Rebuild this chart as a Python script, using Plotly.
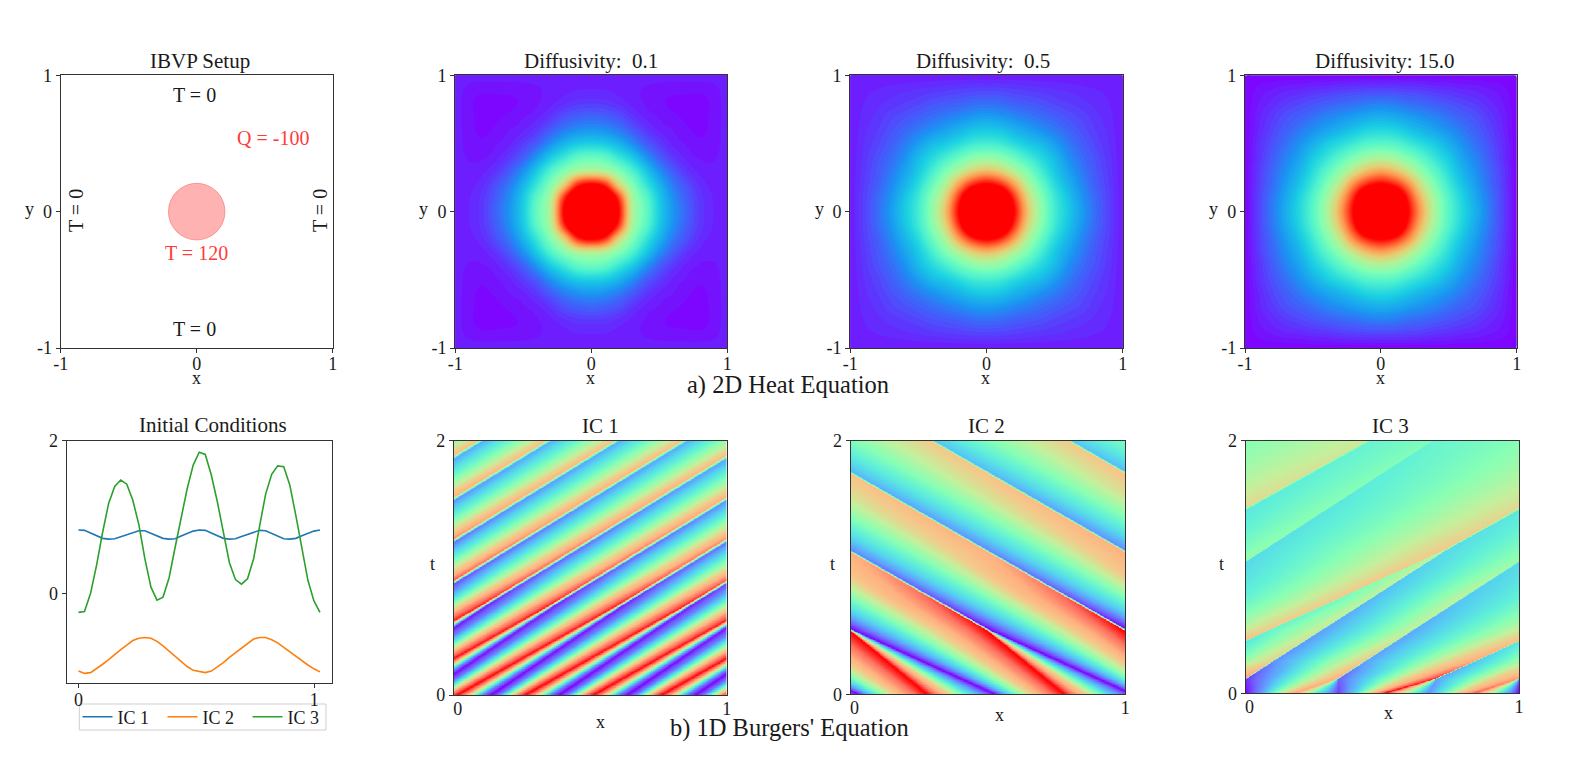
import numpy as np
import plotly.graph_objects as go

W, H = 1578, 768
FONT = "Liberation Serif"
INK = "#1a1a1a"

# ---------- colour stops ----------
RAMP_POS = [0, .1, .2, .3, .4, .5, .6, .7, .8, .9, 1]
HEAT_HEX = ["#8000ff", "#4d4ffc", "#1a96f2", "#1acee3", "#4df2ce", "#80ffb4",
            "#b3f296", "#e6ce74", "#ff964f", "#ff4f28", "#ff0000"]
BURG_HEX = ["#8000ff", "#7060ff", "#60a0ff", "#55d0f0", "#60f0d8", "#88ffb4",
            "#c4f09c", "#f4c98a", "#ffb080", "#ff7060", "#ff0000"]

# ---------- panel texts ----------
HEAT_TITLES = ["Diffusivity:  0.1", "Diffusivity:  0.5", "Diffusivity: 15.0"]
BURGERS_TITLES = ["IC 1", "IC 2", "IC 3"]
IC_NAMES = ["IC 1", "IC 2", "IC 3"]
IC_COLORS = ["#1f77b4", "#ff7f0e", "#2ca02c"]

# ---------- initial conditions, read at steps of 0.0256 in x ----------
IC_STEP = 0.0256
IC1 = [.83, .825, .79, .75, .72, .71, .715, .74, .77, .80, .82, .82, .79, .75, .72, .71, .715, .75, .785, .815, .83,
       .825, .79, .75, .72, .71, .715, .745, .775, .805, .825, .82, .785, .745, .715, .71, .72, .755, .785, .815, .83]
IC2 = [-1.02, -1.05, -1.04, -.99, -.93, -.87, -.80, -.74, -.68, -.62, -.59, -.58, -.59, -.63, -.69, -.76, -.83, -.90,
       -.96, -1.01, -1.03, -1.04, -1.02, -.97, -.91, -.84, -.78, -.71, -.65, -.60, -.58, -.58, -.61, -.65, -.71, -.77,
       -.83, -.89, -.94, -.99, -1.03]
IC3 = [-.25, -.24, .0, .37, .80, 1.18, 1.40, 1.485, 1.43, 1.22, .90, .45, .08, -.09, -.05, .20, .60, 1.0, 1.37, 1.68,
       1.85, 1.82, 1.55, 1.2, .82, .4, .18, .12, .19, .45, .88, 1.3, 1.56, 1.67, 1.66, 1.42, 1.02, .60, .17, -.1, -.25]

# ---------- heat fields: one quadrant, rows y=0..1, columns x=0..1, step 0.1 ----------
# values above 1 sit inside the saturated red disc
HEAT_AXIS = [0, .1, .2, .3, .4, .5, .6, .7, .8, .9, 1]
HEAT_01 = [
    [1.3, 1.25, 1, .6, .45, .3, .2, .13, .07, .045, .04],
    [1.25, 1.2, .93, .58, .43, .29, .19, .12, .068, .044, .04],
    [1, .93, .68, .5, .36, .25, .16, .10, .055, .04, .04],
    [.6, .58, .5, .40, .29, .19, .115, .065, .04, .035, .04],
    [.45, .43, .36, .29, .2, .12, .07, .04, .028, .028, .04],
    [.3, .29, .25, .19, .12, .075, .042, .028, .018, .023, .04],
    [.2, .19, .16, .115, .07, .042, .03, .018, .012, .021, .04],
    [.13, .12, .10, .065, .04, .028, .018, .012, .01, .02, .04],
    [.07, .068, .055, .04, .028, .018, .012, .01, .008, .02, .04],
    [.045, .044, .04, .035, .028, .023, .021, .02, .02, .025, .04],
    [.04, .04, .04, .04, .04, .04, .04, .04, .04, .04, .04],
]
HEAT_05 = [
    [1.3, 1.25, 1, .72, .53, .38, .29, .21, .14, .08, .03],
    [1.25, 1.2, .94, .68, .51, .37, .28, .20, .135, .08, .03],
    [1, .94, .78, .59, .45, .33, .25, .18, .12, .075, .03],
    [.72, .68, .59, .49, .38, .29, .22, .16, .11, .07, .03],
    [.53, .51, .45, .38, .32, .26, .19, .14, .10, .065, .03],
    [.38, .37, .33, .29, .26, .21, .16, .12, .085, .06, .03],
    [.29, .28, .25, .22, .19, .16, .13, .10, .075, .055, .03],
    [.21, .20, .18, .16, .14, .12, .10, .085, .065, .05, .03],
    [.14, .135, .12, .11, .10, .085, .075, .065, .055, .045, .03],
    [.08, .08, .075, .07, .065, .06, .055, .05, .045, .04, .03],
    [.03, .03, .03, .03, .03, .03, .03, .03, .03, .03, .03],
]
HEAT_15 = [
    [1.3, 1.25, 1, .76, .57, .42, .32, .24, .16, .08, 0],
    [1.25, 1.2, .95, .72, .55, .41, .31, .23, .155, .08, 0],
    [1, .95, .81, .63, .49, .37, .28, .21, .14, .075, 0],
    [.76, .72, .63, .52, .42, .33, .25, .19, .13, .07, 0],
    [.57, .55, .49, .42, .35, .29, .22, .17, .115, .06, 0],
    [.42, .41, .37, .33, .29, .24, .19, .145, .10, .055, 0],
    [.32, .31, .28, .25, .22, .19, .155, .12, .085, .045, 0],
    [.24, .23, .21, .19, .17, .145, .12, .10, .07, .04, 0],
    [.16, .155, .14, .13, .115, .10, .085, .07, .05, .03, 0],
    [.08, .08, .075, .07, .06, .055, .045, .04, .03, .02, 0],
    [0, 0, 0, 0, 0, 0, 0, 0, 0, 0, 0],
]

# ---------- Burgers fields: profile knots read across one repeat, at several times ----------
B1_PERIOD, B1_ORIGIN, B1_DRIFT = .25, .074, .763
B1_T = [0, .7, 1, 1.5, 2]
B1_POS = [
    [.0625, .09375, .125, .15625, .1875, .21875, .25, .28125],
    [.01, .06, .125, .19, .238, .243, .25, .255],
    [.01, .06, .125, .19, .238, .243, .25, .255],
    [.01, .06, .125, .19, .238, .243, .25, .255],
    [.01, .06, .125, .19, .238, .243, .25, .255],
]
B1_VAL = [
    [0, .146, .5, .854, 1, .854, .5, .146],
    [.03, .17, .5, .83, .97, .8, .5, .2],
    [.10, .28, .5, .72, .90, .7, .5, .3],
    [.17, .32, .49, .66, .80, .65, .5, .35],
    [.23, .35, .48, .61, .73, .6, .48, .36],
]
B2_PERIOD, B2_ORIGIN, B2_DRIFT = .5, .91, -.805
B2_T = [0, .5, .75, 1.1, 1.75, 2]
B2_POS = [
    [.115, .16, .20, .28, .367, .42, .49, .54],
    [.006, .116, .208, .36, .49, .494, .498, .502],
    [.006, .10, .21, .35, .49, .494, .498, .502],
    [.006, .10, .21, .35, .49, .494, .498, .502],
    [.006, .10, .21, .35, .49, .494, .498, .502],
    [.006, .10, .21, .35, .49, .494, .498, .502],
]
B2_VAL = [
    [0, .28, .5, .8, 1, .8, .5, .28],
    [0, .28, .5, .8, 1, .8, .5, .28],
    [.08, .3, .5, .76, .92, .7, .5, .3],
    [.16, .33, .49, .68, .80, .65, .5, .33],
    [.25, .37, .49, .62, .72, .6, .49, .37],
    [.28, .39, .49, .60, .70, .6, .49, .39],
]
B3_PERIOD, B3_ORIGIN, B3_DRIFT = 1, 0, 0
B3_T = [0, .11, .25, .5, .75, 1.135, 1.5, 2]
B3_POS = [
    [0, .06, .11, .18, .26, .34, .40, .45, .51, .60, .67, .72, .78, .84, .93],
    [.002, .085, .20, .331, .335, .339, .44, .57, .689, .693, .697, .79, .91, .994, .998],
    [.102, .19, .30, .431, .435, .439, .57, .70, .834, .838, .842, .93, 1.02, 1.094, 1.098],
    [.282, .39, .5, .609, .613, .617, .77, .93, 1.084, 1.088, 1.092, 1.15, 1.21, 1.274, 1.278],
    [.462, .57, .68, .788, .792, .796, .98, 1.16, 1.339, 1.343, 1.347, 1.385, 1.42, 1.454, 1.458],
    [.737, .85, .96, 1.064, 1.068, 1.072, 1.29, 1.51, 1.726, 1.73, 1.731, 1.732, 1.733, 1.734, 1.7345],
    [1.042, 1.14, 1.23, 1.324, 1.328, 1.332, 1.57, 1.80, 2.03, 2.033, 2.034, 2.035, 2.036, 2.037, 2.038],
    [1.458, 1.53, 1.61, 1.681, 1.685, 1.689, 1.94, 2.2, 2.446, 2.449, 2.45, 2.451, 2.452, 2.453, 2.454],
]
B3_VAL = [
    [0, .2, .5, .825, .4, .06, .3, .65, 1, .5, .18, .4, .7, .92, .4],
    [.05, .2, .5, .80, .45, .10, .3, .65, .97, .55, .2, .4, .7, .85, .45],
    [.17, .3, .5, .70, .45, .2, .38, .6, .82, .5, .28, .42, .58, .68, .45],
    [.2, .33, .47, .60, .4, .22, .38, .54, .70, .45, .42, .49, .55, .62, .5],
    [.25, .36, .48, .60, .42, .28, .4, .54, .70, .5, .45, .5, .54, .6, .5],
    [.33, .39, .46, .52, .42, .34, .45, .57, .70, .5, .6, .6, .6, .6, .5],
    [.38, .42, .46, .50, .44, .37, .46, .56, .66, .5, .5, .5, .5, .5, .5],
    [.42, .44, .46, .48, .45, .42, .48, .55, .62, .5, .5, .5, .5, .5, .5],
]

# ---------- panel boxes in page pixels: left, right, top, bottom ----------
BOX_SETUP = (60.7, 332.7, 75.3, 348)
BOX_HEAT = [(455.3, 727.3, 75.3, 348), (850.3, 1122.7, 75.3, 348), (1245, 1516.7, 75.3, 348)]
BOX_IC = (66.7, 332, 440.7, 683.3)
BOX_BURG = [(454, 726.7, 440.7, 695), (850.7, 1125.3, 440.7, 694.3), (1245.7, 1519, 440.7, 693.3)]
BOX_LEGEND = (79.3, 326, 704, 730)

heat_scale = [[p, c] for p, c in zip(RAMP_POS, HEAT_HEX)]
burg_scale = [[p, c] for p, c in zip(RAMP_POS, BURG_HEX)]
fig = go.Figure()
layout = {}
notes = []


def px(x, y, text, size=20, color=INK, angle=0):
    notes.append(dict(x=x / W, y=1 - y / H, xref="paper", yref="paper", text=text, showarrow=False,
                      xanchor="center", yanchor="middle", textangle=angle,
                      font=dict(family=FONT, size=size, color=color)))


def axes(n, box, xr, yr, xt, xl, yt, yl, xstand=-5, xticks="outside"):
    l, r, t, b = box
    sfx = "" if n == 1 else str(n)
    common = dict(showline=True, mirror=True, linecolor="#333", linewidth=1.2, ticklen=4, tickwidth=1,
                  tickcolor="#333", showgrid=False, zeroline=False, tickmode="array",
                  tickfont=dict(family=FONT, size=18, color=INK))
    layout["xaxis" + sfx] = dict(common, domain=[l / W, r / W], range=xr, tickvals=xt, ticktext=xl,
                                 anchor="y" + sfx, ticks=xticks, ticklabelstandoff=xstand)
    layout["yaxis" + sfx] = dict(common, domain=[1 - b / H, 1 - t / H], range=yr, tickvals=yt, ticktext=yl,
                                 anchor="x" + sfx, ticks="outside")
    return "x" + sfx, "y" + sfx


def mirrored(q):
    q = np.array(q, float)
    right = np.hstack([q[:, :0:-1], q])
    return np.vstack([right[:0:-1], right])


def refine(a, f=4):
    """Smooth cubic resampling of a table along its first axis, for drawing only."""
    n = a.shape[0]
    idx = np.linspace(0, n - 1, (n - 1) * f + 1)
    i = np.clip(idx.astype(int), 0, n - 2)
    s = (idx - i)[:, None]
    p0, p1, p2, p3 = a[np.clip(i - 1, 0, n - 1)], a[i], a[i + 1], a[np.clip(i + 2, 0, n - 1)]
    return .5 * (2 * p1 + (p2 - p0) * s + (2 * p0 - 5 * p1 + 4 * p2 - p3) * s ** 2 + (3 * p1 - p0 - 3 * p2 + p3) * s ** 3)


def sweep(times, pos, val, period, origin, drift, nx=420, nt=400):
    times, pos, val = np.array(times), np.array(pos, float), np.array(val, float)
    xs = np.linspace(0, 1, nx)
    ts = np.linspace(0, 2, nt)
    z = np.zeros((nt, nx))
    for j, t in enumerate(ts):
        i = min(np.searchsorted(times, t, side="right") - 1, len(times) - 2)
        w = (t - times[i]) / (times[i + 1] - times[i])
        xk = (origin + drift * t + pos[i] * (1 - w) + pos[i + 1] * w) % period
        zk = val[i] * (1 - w) + val[i + 1] * w
        order = np.argsort(xk, kind="stable")
        xp = np.maximum.accumulate(xk[order] + 1e-7 * np.arange(len(xk)))
        fp = zk[order]
        z[j] = np.interp(xs % period, np.concatenate([xp - period, xp, xp + period]), np.concatenate([fp, fp, fp]))
    return xs, ts, z


HX = ["-1", "0", "1"]
# --- IBVP setup panel
xa, ya = axes(1, BOX_SETUP, [-1, 1], [-1, 1], [-1, 0, 1], HX, [-1, 0, 1], HX)
fig.add_trace(go.Scatter(x=[None], y=[None], xaxis=xa, yaxis=ya, showlegend=False))
layout["shapes"] = [
    dict(type="circle", xref=xa, yref=ya, x0=-.208, x1=.208, y0=-.208, y1=.208,
         fillcolor="rgba(255,0,0,.3)", line=dict(color="rgba(255,0,0,.3)", width=1)),
    dict(type="rect", xref="paper", yref="paper", x0=BOX_LEGEND[0] / W, x1=BOX_LEGEND[1] / W,
         y0=1 - BOX_LEGEND[3] / H, y1=1 - BOX_LEGEND[2] / H, fillcolor="white",
         line=dict(color="#cfcfcf", width=1), layer="below"),
]
px(200, 60.7, "IBVP Setup", 21)
px(194, 95, "T = 0")
px(194, 329.3, "T = 0")
px(76, 211, "T = 0", angle=-90)
px(320, 211, "T = 0", angle=-90)
RED = "#ff3b3b"
px(273.3, 138.3, "Q = -100", color=RED)
px(196.7, 253.3, "T = 120", color=RED)
px(196.7, 378, "x", 18)
px(29.3, 209, "y", 18)

# --- heat panels
axis_full = np.array([-v for v in HEAT_AXIS[:0:-1]] + HEAT_AXIS)
axis_fine = refine(axis_full[:, None])[:, 0]
for k, (q, box, title) in enumerate(zip([HEAT_01, HEAT_05, HEAT_15], BOX_HEAT, HEAT_TITLES)):
    xa, ya = axes(2 + k, box, [-1, 1], [-1, 1], [-1, 0, 1], HX, [-1, 0, 1], HX)
    fine = refine(refine(mirrored(q)).T).T
    fig.add_trace(go.Contour(x=axis_fine, y=axis_fine, z=fine, xaxis=xa, yaxis=ya, colorscale=heat_scale,
                             zmin=0, zmax=1, showscale=False, line=dict(width=0, smoothing=1),
                             contours=dict(coloring="fill", start=0, end=1, size=.015, showlines=False),
                             hoverinfo="skip"))
    px([591, 983, 1385][k], 61, title, 21)
    px([590, 985.7, 1380][k], 378, "x", 18)
    px([423.3, 819, 1213][k], 209, "y", 18)

# --- initial conditions
xa, ya = axes(5, BOX_IC, [-.05, 1.075], [-1.18, 2], [0, 1], ["0", "1"], [0, 2], ["0", "2"], xstand=-4)
ic_x = [i * IC_STEP for i in range(len(IC1))]
for name, color, vals in zip(IC_NAMES, IC_COLORS, [IC1, IC2, IC3]):
    fig.add_trace(go.Scatter(x=ic_x, y=vals, name=name, mode="lines", line=dict(color=color, width=1.6),
                             xaxis=xa, yaxis=ya))
px(213.3, 425, "Initial Conditions", 21)

# --- Burgers panels
sets = [(B1_T, B1_POS, B1_VAL, B1_PERIOD, B1_ORIGIN, B1_DRIFT),
        (B2_T, B2_POS, B2_VAL, B2_PERIOD, B2_ORIGIN, B2_DRIFT),
        (B3_T, B3_POS, B3_VAL, B3_PERIOD, B3_ORIGIN, B3_DRIFT)]
for k, (s, box, title) in enumerate(zip(sets, BOX_BURG, BURGERS_TITLES)):
    xa, ya = axes(6 + k, box, [0, 1], [0, 2], [.014, 1], ["0", "1"], [0, 2], ["0", "2"], xstand=-3, xticks="")
    xs, ts, z = sweep(*s)
    fig.add_trace(go.Heatmap(x=xs, y=ts, z=z, xaxis=xa, yaxis=ya, colorscale=burg_scale, zmin=0, zmax=1,
                             showscale=False, hoverinfo="skip"))
    px([600, 986.7, 1390.7][k], 425.7, title, 21)
    px([600, 999, 1388][k], [721.7, 715, 712.7][k], "x", 18)
    px([432.7, 832.7, 1221.7][k], 564, "t", 18)

px(788, 385, "a) 2D Heat Equation", 24.5)
px(789, 728, "b) 1D Burgers' Equation", 24.5)

fig.update_layout(width=W, height=H, margin=dict(l=0, r=0, t=0, b=0, autoexpand=False), paper_bgcolor="white",
                  plot_bgcolor="white", annotations=notes,
                  legend=dict(orientation="h", x=77.5 / W, y=1 - 698.5 / H, xanchor="left", yanchor="top",
                              borderwidth=0, font=dict(family=FONT, size=18, color=INK),
                              entrywidth=40, itemwidth=30, bgcolor="rgba(0,0,0,0)"),
                  **layout)
fig.write_html("out.html", post_script="document.body.style.margin='0';", config=dict(displayModeBar=False))
